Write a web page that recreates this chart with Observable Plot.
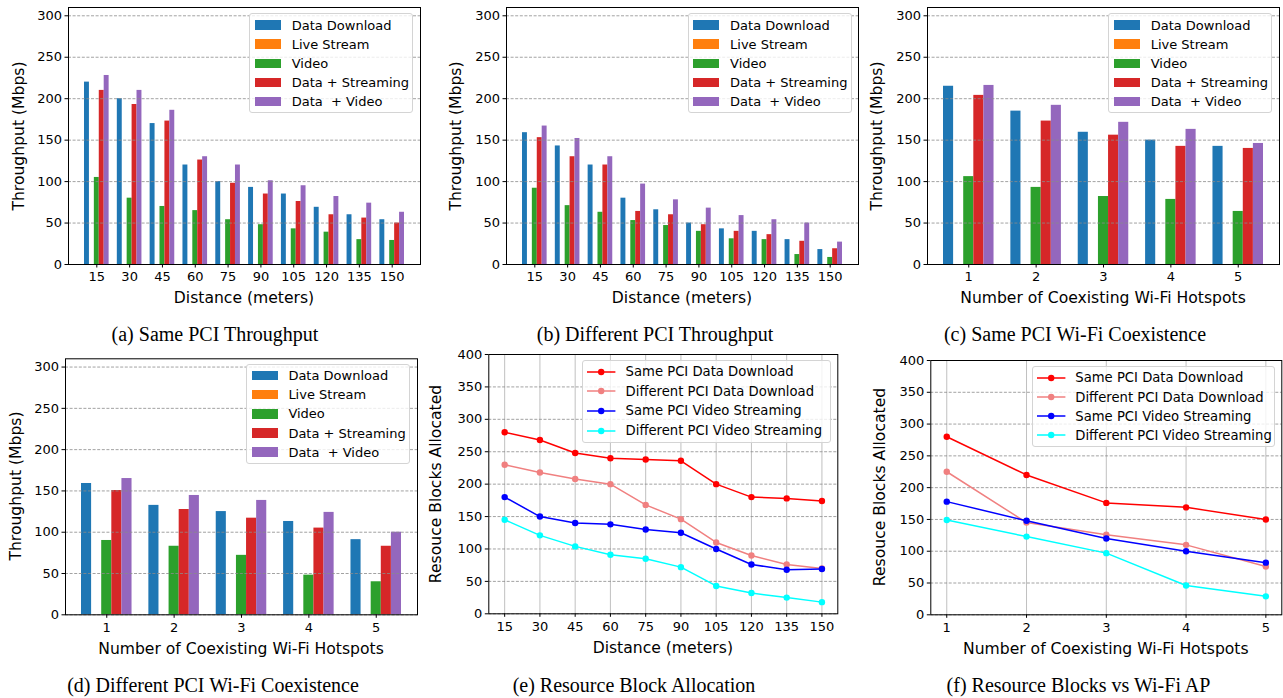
<!DOCTYPE html>
<html>
<head>
<meta charset="utf-8">
<script src="https://cdn.jsdelivr.net/npm/d3@7"></script>
<script src="https://cdn.jsdelivr.net/npm/@observablehq/plot@0.6"></script>
<style>
  body { margin: 0; background: #fff; }
  #root { position: relative; width: 1283px; height: 698px; overflow: hidden; font-family: "DejaVu Sans", sans-serif; color: #000; }
  .abs { position: absolute; }
  .cap { position: absolute; font-family: "Liberation Serif", "Times New Roman", serif; font-size: 20px; line-height: 1; transform: translate(-50%, -50%); white-space: nowrap; }
  .xlab { position: absolute; font-size: 15.6px; line-height: 1; transform: translate(-50%, -50%); white-space: nowrap; }
  .ylab { position: absolute; font-size: 15.6px; line-height: 1; transform: translate(-50%, -50%) rotate(-90deg); white-space: nowrap; }
  .legend { position: absolute; box-sizing: border-box; border: 1px solid #d4d4d4; border-radius: 3px; background: rgba(255,255,255,0.8); font-size: 13px; }
  .lrow { display: flex; align-items: center; white-space: pre; }
</style>
</head>
<body>
<div id="root"></div>
<script>
// ---------- categories / tick labels ----------
const distanceLabels = [15, 30, 45, 60, 75, 90, 105, 120, 135, 150];
const hotspotLabels = [1, 2, 3, 4, 5];
const barSeriesNames = ["Data Download", "Live Stream", "Video", "Data + Streaming", "Data  + Video"];
const barColors = ["#1f77b4", "#ff7f0e", "#2ca02c", "#d62728", "#9467bd"];
const lineSeriesNames = ["Same PCI Data Download", "Different PCI Data Download", "Same PCI Video Streaming", "Different PCI Video Streaming"];
const lineColors = ["#ff0000", "#f08080", "#0000ff", "#00ffff"];
const throughputTicks = [0, 50, 100, 150, 200, 250, 300];
const blockTicks = [0, 50, 100, 150, 200, 250, 300, 350, 400];

// ---------- (a) Same PCI Throughput ----------
const aDataDownload  = [220, 200, 170, 120, 100, 93, 85, 69, 60, 54];
const aLiveStream    = [0, 0, 0, 0, 0, 0, 0, 0, 0, 0];
const aVideo         = [105, 80, 70, 65, 54, 48, 43, 39, 30, 29];
const aDataStreaming = [210, 193, 173, 126, 98, 85, 76, 60, 56, 50];
const aDataVideo     = [228, 210, 186, 130, 120, 101, 95, 82, 74, 63];

// ---------- (b) Different PCI Throughput ----------
const bDataDownload  = [159, 143, 120, 80, 66, 50, 43, 40, 30, 18];
const bLiveStream    = [0, 0, 0, 0, 0, 0, 0, 0, 0, 0];
const bVideo         = [92, 71, 63, 53, 47, 40, 31, 30, 12, 8.5];
const bDataStreaming = [153, 130, 120, 64, 60, 48, 40, 36, 28, 19];
const bDataVideo     = [167, 152, 130, 97, 78, 68, 59, 54, 50, 27];

// ---------- (c) Same PCI Wi-Fi Coexistence ----------
const cDataDownload  = [215, 185, 159.5, 150, 142.5];
const cLiveStream    = [0, 0, 0, 0, 0];
const cVideo         = [106, 93, 82, 78.5, 64];
const cDataStreaming = [204, 173, 156, 142.5, 140];
const cDataVideo     = [216, 192, 171.5, 163, 146];

// ---------- (d) Different PCI Wi-Fi Coexistence ----------
const dDataDownload  = [159, 132.5, 125, 113, 91];
const dLiveStream    = [0, 0, 0, 0, 0];
const dVideo         = [90, 83, 72, 48, 40];
const dDataStreaming = [150.5, 127.5, 117, 105, 83];
const dDataVideo     = [165, 144.5, 138.5, 124, 100];

// ---------- (e) Resource Block Allocation ----------
const eSameData  = [280, 268, 248, 240, 238, 236, 200, 180, 178, 174];
const eDiffData  = [230, 218, 208, 200, 168, 146, 110, 90, 76, 70];
const eSameVideo = [180, 150, 140, 138, 130, 125, 100, 76, 68, 69];
const eDiffVideo = [145, 121, 104, 91, 85, 72, 43, 32, 25, 18];

// ---------- (f) Resource Blocks vs Wi-Fi AP ----------
const fSameData  = [280, 220, 176, 169, 150];
const fDiffData  = [225, 145, 126, 110, 76];
const fSameVideo = [178, 148, 120, 100, 82];
const fDiffVideo = [149, 123, 97, 46, 29];

const root = document.getElementById("root");
const FONT = "DejaVu Sans, sans-serif";

function place(node, left, top) {
  node.style.position = "absolute";
  node.style.left = left + "px";
  node.style.top = top + "px";
  root.appendChild(node);
}
function addDiv(cls, text, x, y) {
  const d = document.createElement("div");
  d.className = cls;
  d.textContent = text;
  d.style.left = x + "px";
  d.style.top = y + "px";
  root.appendChild(d);
}

function barPanel({cats, series, left, top, m}) {
  const n = cats.length;
  const w = 0.15;
  const rows = [];
  cats.forEach((c, gi) => series.forEach((vals, si) => rows.push({gi, si, v: vals[gi], name: barSeriesNames[si]})));
  const pad = 0.05 * (n - 1 + 5 * w);
  const svg = Plot.plot({
    width: 430, height: 300,
    marginLeft: m[0], marginRight: m[1], marginTop: m[2], marginBottom: m[3],
    style: {fontFamily: FONT, fontSize: "13px", color: "#000", background: "transparent", overflow: "visible"},
    x: {type: "linear", domain: [-2.5 * w - pad, n - 1 + 2.5 * w + pad]},
    y: {domain: [0, 310]},
    color: {domain: barSeriesNames, range: barColors},
    marks: [
      Plot.rect(rows, {
        x1: d => d.gi + (d.si - 2.5) * w,
        x2: d => d.gi + (d.si - 1.5) * w,
        y1: d => 0, y2: "v", fill: "name"
      }),
      Plot.gridY(throughputTicks, {stroke: "#8a8a8a", strokeOpacity: 1, strokeWidth: 0.8, strokeDasharray: "3,1.6"}),
      Plot.axisX({ticks: d3.range(n), tickFormat: i => String(cats[i]), tickSize: 3.5, tickPadding: 4, label: null, fontSize: 13}),
      Plot.axisY({ticks: throughputTicks, tickFormat: d => String(d), tickSize: 3.5, tickPadding: 3, label: null, fontSize: 13}),
      Plot.frame({stroke: "#000", strokeWidth: 1})
    ]
  });
  place(svg, left, top);
}

function linePanel({xs, series, xDomain, left, top, m}) {
  const marks = [
    Plot.gridX(xs, {stroke: "#b0b0b0", strokeOpacity: 1, strokeWidth: 0.8}),
    Plot.gridY(blockTicks, {stroke: "#8a8a8a", strokeOpacity: 1, strokeWidth: 0.8, strokeDasharray: "3,1.6"})
  ];
  series.forEach((vals, si) => {
    const rows = xs.map((x, i) => ({x, v: vals[i], name: lineSeriesNames[si]}));
    marks.push(Plot.line(rows, {x: "x", y: "v", stroke: "name", strokeWidth: 1.5}));
    marks.push(Plot.dot(rows, {x: "x", y: "v", fill: "name", r: 3.2, stroke: null}));
  });
  marks.push(
    Plot.axisX({ticks: xs, tickFormat: d => String(d), tickSize: 3.5, tickPadding: 4, label: null, fontSize: 13}),
    Plot.axisY({ticks: blockTicks, tickFormat: d => String(d), tickSize: 3.5, tickPadding: 3, label: null, fontSize: 13}),
    Plot.frame({stroke: "#000", strokeWidth: 1})
  );
  const svg = Plot.plot({
    width: 430, height: 300,
    marginLeft: m[0], marginRight: m[1], marginTop: m[2], marginBottom: m[3],
    style: {fontFamily: FONT, fontSize: "13px", color: "#000", background: "transparent", overflow: "visible"},
    x: {type: "linear", domain: xDomain},
    y: {domain: [0, 400]},
    color: {domain: lineSeriesNames, range: lineColors},
    marks
  });
  place(svg, left, top);
}

function barLegend(left, top) {
  const box = document.createElement("div");
  box.className = "legend";
  Object.assign(box.style, {left: left + "px", top: top + "px", width: "164px", height: "100px", paddingTop: "1.2px"});
  barSeriesNames.forEach((name, i) => {
    const row = document.createElement("div");
    row.className = "lrow";
    row.style.height = "19.1px";
    const sw = document.createElement("span");
    Object.assign(sw.style, {display: "inline-block", width: "26px", height: "9.3px", background: barColors[i], marginLeft: "4.7px", marginRight: "10.7px", flex: "none"});
    const t = document.createElement("span");
    t.textContent = name;
    row.appendChild(sw); row.appendChild(t);
    box.appendChild(row);
  });
  root.appendChild(box);
}

function lineLegend(left, top, width, height, rowH, padTop) {
  const box = document.createElement("div");
  box.className = "legend";
  Object.assign(box.style, {left: left + "px", top: top + "px", width: width + "px", height: height + "px", paddingTop: padTop + "px", fontSize: "13.2px"});
  lineSeriesNames.forEach((name, i) => {
    const row = document.createElement("div");
    row.className = "lrow";
    row.style.height = rowH + "px";
    const ns = "http://www.w3.org/2000/svg";
    const s = document.createElementNS(ns, "svg");
    s.setAttribute("width", "28.4"); s.setAttribute("height", "10");
    s.style.marginLeft = "3.6px"; s.style.marginRight = "10.3px"; s.style.flex = "none"; s.style.overflow = "visible";
    const ln = document.createElementNS(ns, "line");
    ln.setAttribute("x1", 0); ln.setAttribute("x2", 28.4); ln.setAttribute("y1", 5); ln.setAttribute("y2", 5);
    ln.setAttribute("stroke", lineColors[i]); ln.setAttribute("stroke-width", 1.5);
    const c = document.createElementNS(ns, "circle");
    c.setAttribute("cx", 14.2); c.setAttribute("cy", 5); c.setAttribute("r", 3.2); c.setAttribute("fill", lineColors[i]);
    s.appendChild(ln); s.appendChild(c);
    const t = document.createElement("span");
    t.textContent = name;
    row.appendChild(s); row.appendChild(t);
    box.appendChild(row);
  });
  root.appendChild(box);
}

// ---- panels ----
barPanel({cats: distanceLabels, series: [aDataDownload, aLiveStream, aVideo, aDataStreaming, aDataVideo], left: 0, top: 0, m: [68, 10, 7, 36]});
barPanel({cats: distanceLabels, series: [bDataDownload, bLiveStream, bVideo, bDataStreaming, bDataVideo], left: 430, top: 0, m: [76, 2, 7, 36]});
barPanel({cats: hotspotLabels, series: [cDataDownload, cLiveStream, cVideo, cDataStreaming, cDataVideo], left: 853, top: 0, m: [74, 4, 7, 36]});
barPanel({cats: hotspotLabels, series: [dDataDownload, dLiveStream, dVideo, dDataStreaming, dDataVideo], left: 0, top: 345, m: [65, 13, 13.3, 30.7]});
linePanel({xs: distanceLabels, series: [eSameData, eDiffData, eSameVideo, eDiffVideo], xDomain: [8.25, 156.75], left: 420, top: 345, m: [68.3, 12.7, 9, 31.7]});
linePanel({xs: hotspotLabels, series: [fSameData, fDiffData, fSameVideo, fDiffVideo], xDomain: [0.8, 5.2], left: 853, top: 345, m: [77.3, 1.7, 15, 30.7]});

// ---- legends ----
barLegend(249.3, 13.3);
barLegend(687.7, 13.3);
barLegend(1108.3, 13.3);
barLegend(246, 364);
lineLegend(582.3, 360, 248.4, 83.3, 19.7, 0.7);
lineLegend(1032, 366, 242.7, 81.3, 19.2, 1.3);

// ---- axis titles ----
addDiv("ylab", "Throughput (Mbps)", 19.5, 135.5);
addDiv("ylab", "Throughput (Mbps)", 457.3, 135.5);
addDiv("ylab", "Throughput (Mbps)", 878, 135.5);
addDiv("ylab", "Throughput (Mbps)", 16.7, 486.3);
addDiv("ylab", "Resouce Blocks Allocated", 437.3, 483.7);
addDiv("ylab", "Resouce Blocks Allocated", 881.3, 487.2);

addDiv("xlab", "Distance (meters)", 244, 299);
addDiv("xlab", "Distance (meters)", 682, 299);
addDiv("xlab", "Number of Coexisting Wi-Fi Hotspots", 1103, 299);
addDiv("xlab", "Number of Coexisting Wi-Fi Hotspots", 241, 650);
addDiv("xlab", "Distance (meters)", 662.8, 649);
addDiv("xlab", "Number of Coexisting Wi-Fi Hotspots", 1105.8, 650);

// ---- captions ----
addDiv("cap", "(a) Same PCI Throughput", 215, 334);
addDiv("cap", "(b) Different PCI Throughput", 655, 334);
addDiv("cap", "(c) Same PCI Wi-Fi Coexistence", 1075, 334);
addDiv("cap", "(d) Different PCI Wi-Fi Coexistence", 213, 685);
addDiv("cap", "(e) Resource Block Allocation", 634, 685);
addDiv("cap", "(f) Resource Blocks vs Wi-Fi AP", 1078.5, 685);
</script>
</body>
</html>
